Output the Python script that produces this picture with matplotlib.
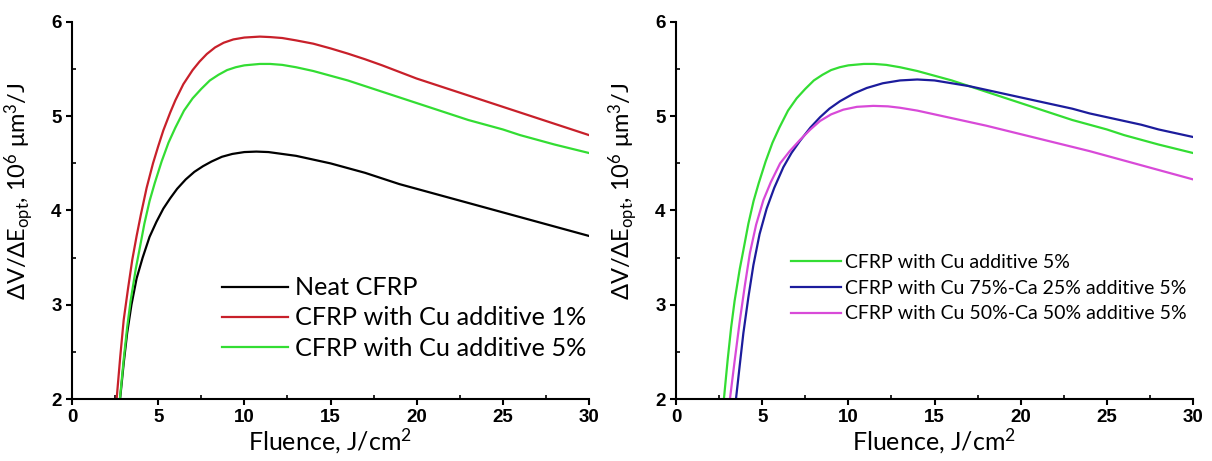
import numpy as np
from matplotlib import pyplot as plt
from matplotlib.ticker import MultipleLocator

plt.rcParams['font.family'] = ['Lato', 'DejaVu Sans']
plt.rcParams['mathtext.default'] = 'regular'

# left panel data
neat_x = [2.79, 3.0, 3.2, 3.45, 3.75, 4.1, 4.5, 4.9, 5.3, 5.7, 6.1, 6.6, 7.1, 7.6, 8.1, 8.7, 9.3, 10.0, 10.7, 11.4, 12.2, 13.0,
          14.0, 15.0, 16.0, 17.0, 18.0, 19.0, 20.0, 21.0, 22.0, 23.0, 24.0, 25.0, 26.0, 27.0, 28.0, 29.0, 30.0]
neat_y = [2.0, 2.38, 2.7, 3.0, 3.28, 3.5, 3.72, 3.88, 4.02, 4.13, 4.23, 4.33, 4.41, 4.47, 4.52, 4.57, 4.60, 4.62, 4.625, 4.62, 4.60, 4.58,
          4.54, 4.50, 4.45, 4.40, 4.34, 4.28, 4.23, 4.18, 4.13, 4.08, 4.03, 3.98, 3.93, 3.88, 3.83, 3.78, 3.73]

cu1_x = [2.59, 2.8, 3.0, 3.25, 3.5, 3.75, 4.0, 4.33, 4.7, 5.0, 5.3, 5.7, 6.0, 6.46, 7.0, 7.4, 7.82, 8.3, 8.8, 9.36, 10.0, 10.9,
         11.5, 12.2, 13.0, 14.0, 15.0, 16.0, 17.0, 18.0, 19.0, 20.0, 21.0, 22.0, 23.0, 24.0, 25.0, 26.0, 27.0, 28.0, 29.0, 30.0]
cu1_y = [2.0, 2.45, 2.84, 3.17, 3.48, 3.73, 3.96, 4.24, 4.50, 4.68, 4.85, 5.04, 5.17, 5.34, 5.49, 5.58, 5.66, 5.73, 5.78, 5.815, 5.835, 5.845,
         5.84, 5.83, 5.805, 5.77, 5.72, 5.665, 5.605, 5.54, 5.47, 5.40, 5.34, 5.28, 5.22, 5.16, 5.10, 5.04, 4.98, 4.92, 4.86, 4.80]

cu5_x = [2.78, 3.0, 3.2, 3.4, 3.7, 3.9, 4.2, 4.5, 4.8, 5.2, 5.6, 6.0, 6.5, 7.0, 7.5, 8.0, 8.5, 9.0, 9.5, 10.0, 10.9, 11.5, 12.2,
         13.0, 14.0, 15.0, 16.0, 17.0, 18.0, 19.0, 20.0, 21.0, 22.0, 23.0, 24.0, 25.0, 26.0, 27.0, 28.0, 29.0, 30.0]
cu5_y = [2.0, 2.42, 2.76, 3.04, 3.38, 3.57, 3.86, 4.10, 4.29, 4.52, 4.72, 4.88, 5.06, 5.19, 5.29, 5.38, 5.44, 5.49, 5.52, 5.54, 5.555, 5.555, 5.545,
         5.52, 5.48, 5.43, 5.38, 5.32, 5.26, 5.20, 5.14, 5.08, 5.02, 4.96, 4.91, 4.86, 4.80, 4.75, 4.70, 4.655, 4.61]

# right panel extra data
cuca75_x = [3.48, 3.7, 3.91, 4.2, 4.49, 4.85, 5.26, 5.7, 6.23, 6.7, 7.2, 7.8, 8.36, 8.9, 9.52, 10.3, 11.07, 12.0, 13.0, 14.0,
            15.0, 16.0, 17.0, 18.0, 19.0, 20.0, 21.0, 22.0, 23.0, 24.0, 25.0, 26.0, 27.0, 28.0, 29.0, 30.0]
cuca75_y = [2.0, 2.36, 2.7, 3.08, 3.42, 3.75, 4.02, 4.24, 4.46, 4.61, 4.74, 4.88, 4.99, 5.08, 5.16, 5.24, 5.30, 5.35, 5.38, 5.39,
            5.38, 5.35, 5.32, 5.28, 5.24, 5.20, 5.16, 5.12, 5.08, 5.03, 4.99, 4.95, 4.91, 4.86, 4.82, 4.78]

cuca50_x = [3.13, 3.4, 3.71, 4.0, 4.29, 4.65, 5.07, 5.5, 6.04, 6.6, 7.2, 7.8, 8.36, 9.0, 9.71, 10.5, 11.45, 12.3, 13.0, 14.0,
            15.0, 16.0, 17.0, 18.0, 19.0, 20.0, 21.0, 22.0, 23.0, 24.0, 25.0, 26.0, 27.0, 28.0, 29.0, 30.0]
cuca50_y = [2.0, 2.40, 2.84, 3.21, 3.55, 3.85, 4.11, 4.30, 4.50, 4.63, 4.75, 4.86, 4.95, 5.02, 5.07, 5.10, 5.11, 5.105, 5.09, 5.06,
            5.02, 4.98, 4.94, 4.90, 4.855, 4.81, 4.765, 4.72, 4.675, 4.63, 4.58, 4.53, 4.48, 4.43, 4.38, 4.33]

x_ticks = [0, 5, 10, 15, 20, 25, 30]
y_ticks = [2, 3, 4, 5, 6]

c_red = '#c8202a'
c_green = '#33dd33'
c_blue = '#1c1c9c'
c_mag = '#d84ad8'

fig = plt.figure(figsize=(12.12, 4.61), dpi=100)
ax1 = fig.add_axes([72/1212, 1-399/461, 517/1212, 377/461])
ax2 = fig.add_axes([676/1212, 1-399/461, 517/1212, 377/461])

ax1.plot(neat_x, neat_y, color='black', lw=1.6, label='Neat CFRP')
ax1.plot(cu1_x, cu1_y, color=c_red, lw=1.6, label='CFRP with Cu additive 1%')
ax1.plot(cu5_x, cu5_y, color=c_green, lw=1.6, label='CFRP with Cu additive 5%')

ax2.plot(cu5_x, cu5_y, color=c_green, lw=1.6, label='CFRP with Cu additive 5%')
ax2.plot(cuca75_x, cuca75_y, color=c_blue, lw=1.6, label='CFRP with Cu 75%-Ca 25% additive 5%')
ax2.plot(cuca50_x, cuca50_y, color=c_mag, lw=1.6, label='CFRP with Cu 50%-Ca 50% additive 5%')

for ax in (ax1, ax2):
    ax.set_xlim(0, 30)
    ax.set_ylim(2, 6)
    ax.set_xticks(x_ticks)
    ax.set_xticklabels([str(t) for t in x_ticks], fontweight='bold', family='Liberation Sans')
    ax.set_yticks(y_ticks)
    ax.set_yticklabels([str(t) for t in y_ticks], fontweight='bold', family='Liberation Sans')
    ax.xaxis.set_minor_locator(MultipleLocator(2.5))
    ax.yaxis.set_minor_locator(MultipleLocator(0.5))
    ax.spines['top'].set_visible(False)
    ax.spines['right'].set_visible(False)
    ax.spines['left'].set_linewidth(1.5)
    ax.spines['bottom'].set_linewidth(1.5)
    ax.tick_params(which='major', direction='out', length=4.5, width=1.5, labelsize=13.5, pad=3)
    ax.tick_params(which='minor', direction='in', length=3, width=1.2)
    ax.set_xlabel('Fluence, J/cm$^2$', fontsize=18, labelpad=0)
    ax.set_ylabel(r'ΔV/ΔE$_{opt}$, 10$^6$ μm$^3$/J', fontsize=17)
    ax.yaxis.set_label_coords(-0.07, 0.55)

ax1.legend(loc='center left', bbox_to_anchor=(0.29, 0.215), frameon=False, fontsize=18.2,
           handlelength=2.6, handletextpad=0.3, labelspacing=0.28, borderpad=0, borderaxespad=0)
ax2.legend(loc='center left', bbox_to_anchor=(0.222, 0.294), frameon=False, fontsize=14,
           handlelength=2.6, handletextpad=0.2, labelspacing=0.45, borderpad=0, borderaxespad=0)

fig.savefig('out.png', dpi=100)
